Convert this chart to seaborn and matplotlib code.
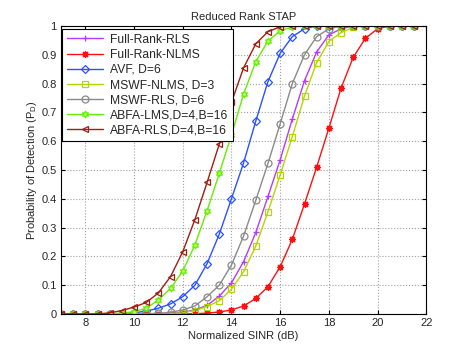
import matplotlib
matplotlib.use("Agg")
import matplotlib.pyplot as plt
import pandas as pd
import seaborn as sns

sinr = [7, 7.5, 8, 8.5, 9, 9.5, 10, 10.5, 11, 11.5, 12, 12.5, 13, 13.5, 14,
        14.5, 15, 15.5, 16, 16.5, 17, 17.5, 18, 18.5, 19, 19.5, 20, 20.5, 21, 21.5]

full_rank_rls = [0, 0, 0, 0, 0, 0, 0, 0, 0, 0.002, 0.006, 0.014, 0.03, 0.062, 0.108,
                 0.182, 0.283, 0.408, 0.535, 0.677, 0.81, 0.91, 0.969, 0.99, 1, 1, 1, 1, 1, 1]
full_rank_nlms = [0, 0, 0, 0, 0, 0, 0, 0, 0, 0, 0, 0.001, 0.003, 0.007, 0.014,
                  0.028, 0.054, 0.095, 0.164, 0.259, 0.382, 0.51, 0.645, 0.784, 0.891, 0.957, 0.99, 1, 1, 1]
avf = [0, 0, 0, 0, 0, 0.001, 0.004, 0.01, 0.02, 0.035, 0.06, 0.1, 0.175, 0.277, 0.40,
       0.525, 0.67, 0.807, 0.905, 0.963, 0.99, 1, 1, 1, 1, 1, 1, 1, 1, 1]
mswf_nlms = [0, 0, 0, 0, 0, 0, 0, 0, 0, 0.001, 0.004, 0.012, 0.026, 0.046, 0.086,
             0.147, 0.236, 0.355, 0.483, 0.616, 0.757, 0.873, 0.946, 0.977, 0.995, 1, 1, 1, 1, 1]
mswf_rls = [0, 0, 0, 0, 0, 0, 0, 0.001, 0.002, 0.006, 0.014, 0.028, 0.06, 0.1, 0.17,
            0.271, 0.395, 0.523, 0.66, 0.80, 0.90, 0.963, 0.99, 1, 1, 1, 1, 1, 1, 1]
abfa_lms = [0, 0, 0, 0, 0.001, 0.003, 0.008, 0.02, 0.049, 0.089, 0.149, 0.24, 0.359, 0.488, 0.622,
            0.764, 0.876, 0.948, 0.983, 0.996, 1, 1, 1, 1, 1, 1, 1, 1, 1, 1]
abfa_rls = [0, 0, 0, 0, 0.004, 0.012, 0.024, 0.04, 0.073, 0.13, 0.216, 0.328, 0.457, 0.59, 0.735,
            0.855, 0.938, 0.98, 0.997, 1, 1, 1, 1, 1, 1, 1, 1, 1, 1, 1]

series = [
    ("Full-Rank-RLS", full_rank_rls, "#b23cff", "+", "#b23cff"),
    ("Full-Rank-NLMS", full_rank_nlms, "#ff1010", (8, 2, 0), "#ff1010"),
    ("AVF, D=6", avf, "#2a52ff", "D", "none"),
    ("MSWF-NLMS, D=3", mswf_nlms, "#b5d600", "s", "none"),
    ("MSWF-RLS, D=6", mswf_rls, "#8a8a8a", "o", "none"),
    ("ABFA-LMS,D=4,B=16", abfa_lms, "#66ee00", (6, 1, 0), "#c8ff80"),
    ("ABFA-RLS,D=4,B=16", abfa_rls, "#a01e10", "<", "none"),
]

sns.set_style("white")
plt.rcParams["font.family"] = ["Liberation Sans", "DejaVu Sans"]
plt.rcParams["mathtext.fontset"] = "custom"
plt.rcParams["mathtext.rm"] = "Liberation Sans"
plt.rcParams["mathtext.it"] = "Liberation Sans"

fig = plt.figure(figsize=(4.71, 3.54), dpi=100)
ax = fig.add_axes([0.1295, 0.113, 0.7755, 0.8137])

for name, values, color, marker, face in series:
    df = pd.DataFrame({"x": sinr, "y": values})
    size = 4 if marker == "D" else 5
    sns.lineplot(data=df, x="x", y="y", ax=ax, color=color, label=name,
                 marker=marker, markersize=size, markerfacecolor=face,
                 markeredgecolor=color, markeredgewidth=0.9, linewidth=1.0)

ax.set_xlim(7, 22)
ax.set_ylim(0, 1)
ax.set_xticks([8, 10, 12, 14, 16, 18, 20, 22])
yt = [0, 0.1, 0.2, 0.3, 0.4, 0.5, 0.6, 0.7, 0.8, 0.9, 1]
ax.set_yticks(yt)
ax.set_yticklabels(["0" if v == 0 else "1" if v == 1 else f"{v:.1f}" for v in yt])
ax.tick_params(direction="in", length=3, labelsize=8, top=True, right=True,
               bottom=True, left=True, color="black", pad=3)
ax.grid(True, linestyle=":", color="#a0a0a0", linewidth=0.8)
for s in ax.spines.values():
    s.set_visible(True)
    s.set_color("black")
    s.set_linewidth(0.8)

ax.set_title("Reduced Rank STAP", fontsize=8, pad=4)
ax.set_xlabel("Normalized SINR (dB)", fontsize=8, labelpad=2)
ax.set_ylabel("Probability of Detection (P$_D$)", fontsize=8, labelpad=2)

leg = ax.legend(loc="upper left", bbox_to_anchor=(0.004, 0.988), fontsize=8.7,
                frameon=True, fancybox=False, edgecolor="black", framealpha=1,
                handlelength=3.0, labelspacing=0.26, borderpad=0.35,
                handletextpad=0.6, borderaxespad=0)
leg.get_frame().set_linewidth(0.8)

fig.savefig("out.png", dpi=100)
